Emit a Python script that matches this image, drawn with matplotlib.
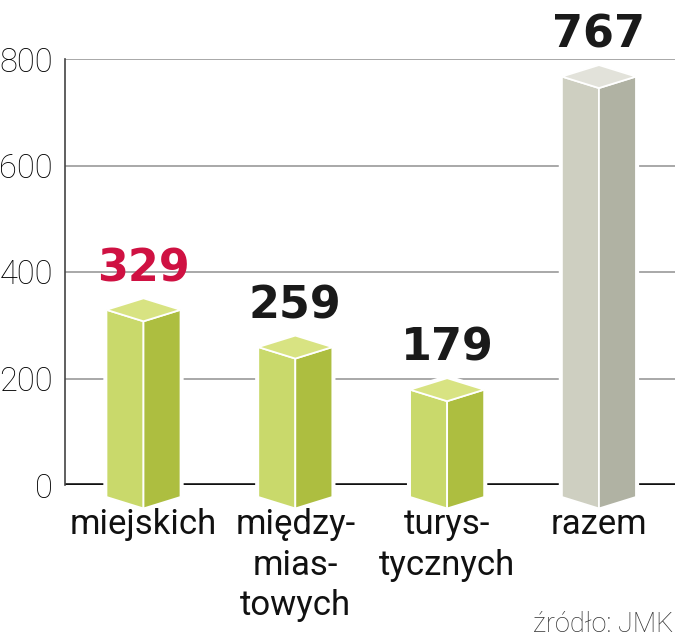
import matplotlib
matplotlib.use('Agg')
import matplotlib.pyplot as plt
from matplotlib.patches import Polygon

# dane
kategorie = ['miejskich', 'między-\nmias-\ntowych', 'turys-\ntycznych', 'razem']
wartosci = [329, 259, 179, 767]
kolory_etykiet = ['#cf1142', '#1a1a1a', '#1a1a1a', '#1a1a1a']
y_ticks = [0, 200, 400, 600, 800]
zrodlo = 'źródło: JMK'

# kolory ścian słupków: (lewa, prawa, góra)
zielony = ('#c9d96b', '#adbe40', '#d8e382')
szary = ('#cecfc1', '#b0b2a3', '#e2e2da')
kolory_slupkow = [zielony, zielony, zielony, szary]

plt.rcParams['font.family'] = ['Roboto', 'DejaVu Sans']

fig = plt.figure(figsize=(6.75, 6.4), dpi=100)
ax = fig.add_axes([65 / 675, 155 / 640, 610 / 675, 426 / 640])
ax.set_xlim(-0.517, 3.501)
ax.set_ylim(0, 800)

# siatka i osie
ax.set_yticks(y_ticks)
ax.set_yticklabels([str(t) for t in y_ticks], fontsize=23.5, fontweight='light', color='#000000')
ax.tick_params(axis='y', length=0, pad=8.6)
ax.set_xticks([])
ax.yaxis.grid(True, color='#9a9a9a', lw=1.2)
ax.set_axisbelow(True)
for s in ['top', 'right', 'bottom']:
    ax.spines[s].set_visible(False)
ax.spines['left'].set_color('#444444')
ax.spines['left'].set_linewidth(1.2)
ax.axhline(0, color='#111111', lw=2.6, zorder=1)

# słupki "3D"
w = 0.244   # połowa szerokości
d = 21.6    # głębokość w pionie (jednostki danych)
b = -22.5   # dolne narożniki boczne
for i, (v, kol) in enumerate(zip(wartosci, kolory_slupkow)):
    c = i
    obrys = [(c - w, b), (c - w, v), (c, v + d), (c + w, v), (c + w, b), (c, b - d)]
    ax.add_patch(Polygon(obrys, closed=True, facecolor='white', edgecolor='white',
                         lw=4.5, joinstyle='miter', zorder=3, clip_on=False))
    lewa = [(c - w, v), (c, v - d), (c, b - d), (c - w, b)]
    prawa = [(c, v - d), (c + w, v), (c + w, b), (c, b - d)]
    gora = [(c - w, v), (c, v + d), (c + w, v), (c, v - d)]
    for pts, fc in zip([lewa, prawa, gora], kol):
        ax.add_patch(Polygon(pts, closed=True, facecolor=fc, edgecolor='white',
                             lw=1.3, zorder=4, clip_on=False))
    ax.text(c, v + 54, str(v), ha='center', va='baseline', fontsize=32,
            fontweight='bold', family='DejaVu Sans', color=kolory_etykiet[i],
            zorder=5, clip_on=False)
    ax.text(c, -44, kategorie[i], ha='center', va='top', fontsize=25,
            color='#111111', linespacing=1.28, clip_on=False)

fig.text(673 / 675, 8 / 640, zrodlo, ha='right', va='baseline', fontsize=19.5,
         fontweight='light', color='#333333')

fig.savefig('out.png', dpi=100)
